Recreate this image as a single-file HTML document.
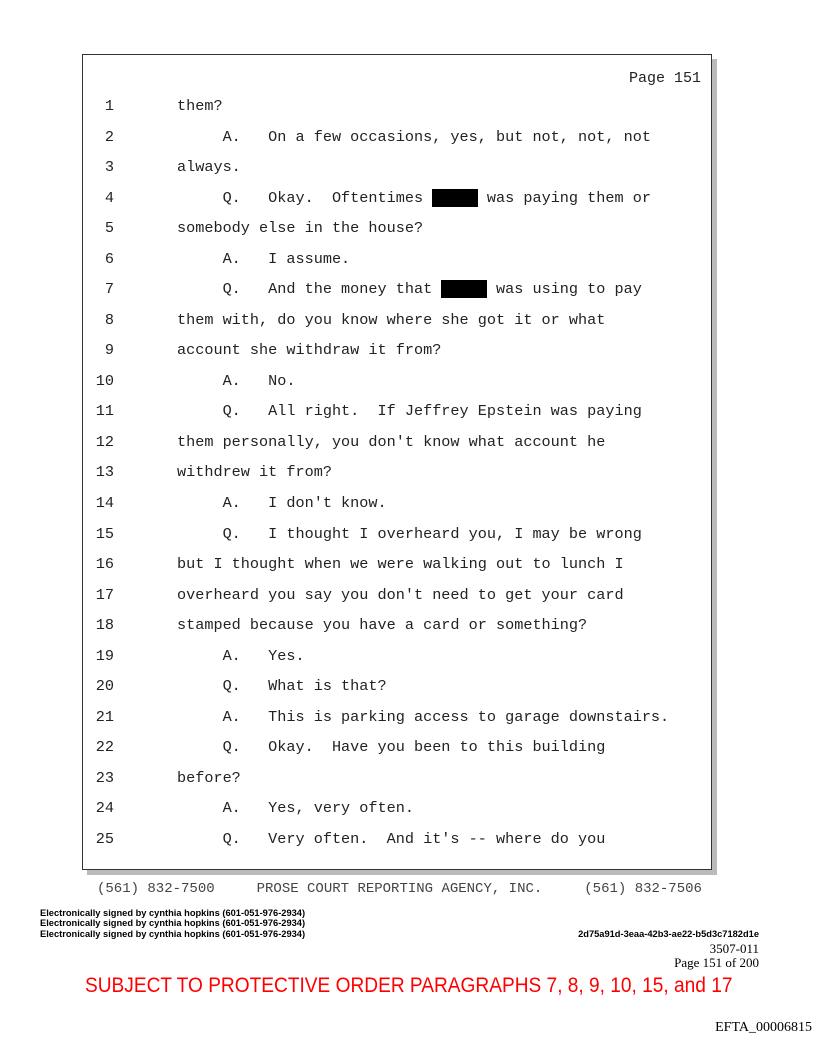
<!DOCTYPE html>
<html><head><meta charset="utf-8"><style>
body{margin:0;background:#fff;}
#p{position:relative;width:816px;height:1056px;overflow:hidden;background:#fff;}
.box{position:absolute;left:82px;top:54px;width:628px;height:814px;border:1px solid #333;box-shadow:5px 5px 0 #bbb;background:#fff;}
.l{position:absolute;font-family:"Liberation Mono",monospace;font-size:15.2px;color:#222;white-space:pre;line-height:18px;}
.n{position:absolute;left:80px;width:34px;text-align:right;font-family:"Liberation Mono",monospace;font-size:15.2px;color:#222;line-height:18px;}
.r{background:#000;color:#000;}
.s{position:absolute;left:40px;font-family:"Liberation Sans",sans-serif;font-weight:bold;font-size:9.3px;line-height:10px;color:#000;white-space:nowrap;}
.t{position:absolute;right:57px;font-family:"Liberation Serif",serif;font-size:13px;color:#000;}
</style></head><body><div id="p">
<div class="box"></div>
<div class="l" style="left:629px;top:70px;font-size:15px">Page 151</div>
<div id="lines"></div>
<script>
var L=["them?","     A.   On a few occasions, yes, but not, not, not","always.","     Q.   Okay.  Oftentimes <span class=r>xxxxx</span> was paying them or","somebody else in the house?","     A.   I assume.","     Q.   And the money that <span class=r>xxxxx</span> was using to pay","them with, do you know where she got it or what","account she withdraw it from?","     A.   No.","     Q.   All right.  If Jeffrey Epstein was paying","them personally, you don't know what account he","withdrew it from?","     A.   I don't know.","     Q.   I thought I overheard you, I may be wrong","but I thought when we were walking out to lunch I","overheard you say you don't need to get your card","stamped because you have a card or something?","     A.   Yes.","     Q.   What is that?","     A.   This is parking access to garage downstairs.","     Q.   Okay.  Have you been to this building","before?","     A.   Yes, very often.","     Q.   Very often.  And it's -- where do you"];
var h="";for(var i=0;i<25;i++){var y=97+i*30.54;h+='<div class="n" style="top:'+y+'px">'+(i+1)+'</div><div class="l" style="left:177px;top:'+y+'px">'+L[i]+'</div>';}
document.getElementById("lines").outerHTML=h;
</script>
<div class="l" style="left:97px;top:880px;font-size:14px;color:#444">(561) 832-7500     PROSE COURT REPORTING AGENCY, INC.     (561) 832-7506</div>
<div class="s" style="top:908px">Electronically signed by cynthia hopkins (601-051-976-2934)</div>
<div class="s" style="top:918px">Electronically signed by cynthia hopkins (601-051-976-2934)</div>
<div class="s" style="top:929px">Electronically signed by cynthia hopkins (601-051-976-2934)</div>
<div class="s" style="left:auto;right:57px;top:929px">2d75a91d-3eaa-42b3-ae22-b5d3c7182d1e</div>
<div class="t" style="top:941px">3507-011</div>
<div class="t" style="top:955px">Page 151 of 200</div>
<div style="position:absolute;left:85px;top:974px;font-family:'Liberation Sans',sans-serif;font-size:21px;color:#f00;white-space:nowrap;transform:scaleX(0.91);transform-origin:0 0;">SUBJECT TO PROTECTIVE ORDER PARAGRAPHS 7, 8, 9, 10, 15, and 17</div>
<div class="t" style="right:4px;top:1020px;font-size:14px">EFTA_00006815</div>
</div></body></html>
